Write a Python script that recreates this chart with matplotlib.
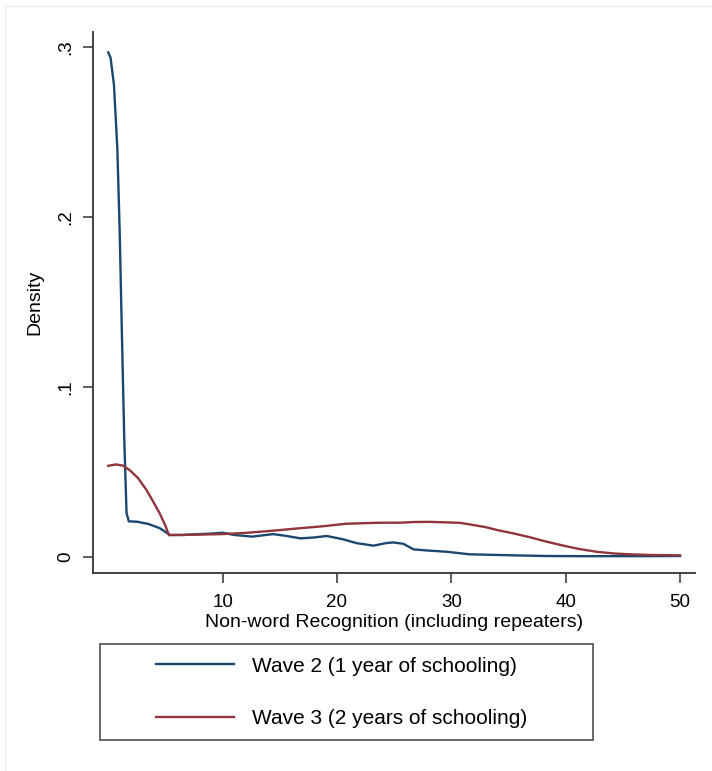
import matplotlib.pyplot as plt
from matplotlib.patches import Rectangle
from matplotlib.legend_handler import HandlerLine2D

plt.rcParams['font.family'] = ['Liberation Sans', 'DejaVu Sans']

# kernel density estimates, read off at selected scores
wave2_x = [0, 0.2, 0.5, 0.8, 1.0, 1.2, 1.4, 1.6, 1.8, 2.5, 3.5, 4.5, 5.4, 6.5, 8, 9, 10,
           11, 12.6, 14.4, 15.5, 16.8, 18, 19.1, 20.5, 21.7, 23.2, 24.3, 24.9, 25.8,
           26.7, 28, 29.6, 31.6, 33.5, 35.4, 38.3, 42, 46, 50]
wave2_y = [0.297, 0.294, 0.278, 0.24, 0.192, 0.13, 0.07, 0.026, 0.021, 0.0208, 0.0195,
           0.017, 0.013, 0.013, 0.0135, 0.0138, 0.0143, 0.013, 0.012, 0.0135, 0.0125,
           0.011, 0.0115, 0.0124, 0.0105, 0.0082, 0.0067, 0.0082, 0.0086, 0.0078,
           0.0045, 0.0038, 0.0031, 0.0016, 0.0013, 0.001, 0.0006, 0.0005, 0.0005, 0.0006]

wave3_x = [0, 0.7, 1.3, 1.9, 2.6, 3.35, 4.0, 4.5, 5.0, 5.3, 6.5, 8, 10, 12, 14.4, 16.5,
           18.9, 20.8, 23.75, 25.5, 26.7, 28, 29.6, 30.8, 31.6, 33, 34, 35.5, 36.9,
           38.3, 39.8, 41.2, 42.7, 44.2, 45.6, 47.5, 50]
wave3_y = [0.0537, 0.0545, 0.0538, 0.051, 0.0465, 0.0394, 0.0318, 0.0257, 0.0185, 0.0129,
           0.013, 0.0132, 0.0135, 0.0142, 0.0155, 0.0168, 0.0182, 0.0196, 0.0202, 0.0202,
           0.0206, 0.0207, 0.0204, 0.0201, 0.0192, 0.0176, 0.0159, 0.0138, 0.0116,
           0.0091, 0.0067, 0.0047, 0.0031, 0.0021, 0.0016, 0.0012, 0.001]

labels = ['Wave 2 (1 year of schooling)', 'Wave 3 (2 years of schooling)']
navy = '#1a476f'
maroon = '#90353b'

fig = plt.figure(figsize=(7.12, 7.71), dpi=100)
fig.patches.append(Rectangle((5 / 712, -0.01), 1.02, (771 - 6) / 771 + 0.01,
                             transform=fig.transFigure, fill=False,
                             edgecolor='#e8eeef', linewidth=1.0))

ax = fig.add_axes([0.130, 0.2568, 0.846, 0.7017])
l2, = ax.plot(wave2_x, wave2_y, color=navy, lw=1.7, label=labels[0])
l3, = ax.plot(wave3_x, wave3_y, color=maroon, lw=1.7, label=labels[1])

ax.set_xlim(-1.37, 51.3)
ax.set_ylim(-0.0094, 0.309)
ax.set_xticks([10, 20, 30, 40, 50])
ax.set_yticks([0, 0.1, 0.2, 0.3])
ax.set_yticklabels(['0', '.1', '.2', '.3'], rotation=90, va='center')
ax.tick_params(direction='out', length=7, width=1.1, labelsize=13.5, color='#333333')
ax.tick_params(axis='x', pad=8)
ax.tick_params(axis='y', pad=6)
for side in ['top', 'right']:
    ax.spines[side].set_visible(False)
for side in ['left', 'bottom']:
    ax.spines[side].set_linewidth(1.3)
    ax.spines[side].set_color('#333333')

ax.set_xlabel('Non-word Recognition (including repeaters)', fontsize=14, labelpad=2)
ax.set_ylabel('Density', fontsize=14, labelpad=10)

# legend lines sit indented from the box edge
hmap = {l2: HandlerLine2D(xpad=2.07), l3: HandlerLine2D(xpad=2.07)}
leg = fig.legend(handles=[l2, l3], loc='upper left', handler_map=hmap,
                 bbox_to_anchor=(100 / 712, 1 - 741 / 771, 493 / 712, 97 / 771),
                 mode='expand', fontsize=15, frameon=True, fancybox=False,
                 edgecolor='#333333', borderpad=0.6, labelspacing=1.6,
                 handlelength=5.82, handletextpad=0.87, borderaxespad=0)
leg.get_frame().set_linewidth(1.3)
leg._legend_box.align = 'left'

fig.savefig('out.png', dpi=100)
